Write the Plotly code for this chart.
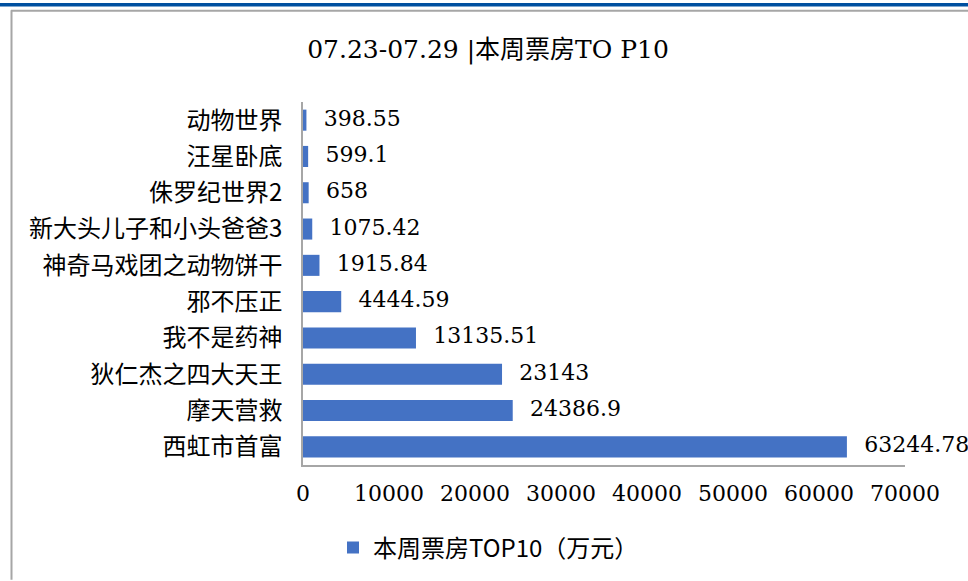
import plotly.graph_objects as go

# ---- data (top to bottom as shown) ----
categories = ["动物世界", "汪星卧底", "侏罗纪世界2", "新大头儿子和小头爸爸3", "神奇马戏团之动物饼干",
              "邪不压正", "我不是药神", "狄仁杰之四大天王", "摩天营救", "西虹市首富"]
values = [398.55, 599.1, 658, 1075.42, 1915.84, 4444.59, 13135.51, 23143, 24386.9, 63244.78]
value_labels = ["398.55", "599.1", "658", "1075.42", "1915.84", "4444.59", "13135.51", "23143", "24386.9", "63244.78"]
x_ticks = [0, 10000, 20000, 30000, 40000, 50000, 60000, 70000]
series_name = "本周票房TOP10（万元）"
title_text = "07.23-07.29 |本周票房TO P10"

W, H = 968, 581
L, R, T, B = 303, 905, 102, 466
SERIF = "DejaVu Serif, Noto Sans CJK SC, serif"
CJK = "Noto Sans CJK SC, DejaVu Serif"
BLUE = "#4472C4"
GREY = "#A6A6A6"


def px(xp):
    return (xp - L) / (R - L)


def py(yp):
    return (B - yp) / (B - T)


fig = go.Figure()
fig.add_trace(go.Bar(
    x=values, y=categories, orientation="h", name=series_name,
    marker=dict(color=BLUE, line=dict(width=0)),
    hoverinfo="x+y",
))
fig.add_trace(go.Scatter(
    x=values, y=categories, mode="markers+text", text=value_labels,
    textposition="middle right", cliponaxis=False,
    marker=dict(size=26, opacity=0), showlegend=False, hoverinfo="skip",
    textfont=dict(family=SERIF, size=22, color="#000000"),
))

shapes = [
    dict(type="line", xref="paper", yref="paper", x0=px(0), x1=px(W), y0=py(4.5), y1=py(4.5),
         line=dict(color="#0050A0", width=3.5)),
    dict(type="line", xref="paper", yref="paper", x0=px(11), x1=px(W), y0=py(10.5), y1=py(10.5),
         line=dict(color=GREY, width=2)),
    dict(type="line", xref="paper", yref="paper", x0=px(11.5), x1=px(11.5), y0=py(10), y1=py(H),
         line=dict(color=GREY, width=2)),
]

n = len(categories)
fig.update_layout(
    width=W, height=H,
    margin=dict(l=L, r=W - R, t=T, b=H - B, pad=0),
    paper_bgcolor="white", plot_bgcolor="white",
    bargap=0.42,
    title=dict(text=title_text, x=488 / W, xanchor="center", y=1 - 49 / H, yanchor="middle",
               yref="container", font=dict(family=SERIF, size=25, color="#000000")),
    xaxis=dict(range=[0, 70000], tickvals=x_ticks, ticktext=[str(v) for v in x_ticks],
               showgrid=False, zeroline=False, showline=True, linecolor=GREY, linewidth=1.5,
               ticks="", ticklabelstandoff=8,
               tickfont=dict(family=SERIF, size=22, color="#000000")),
    yaxis=dict(range=[n - 0.5, -0.5], showgrid=False, showline=True, linecolor=GREY, linewidth=1.5,
               ticks="", ticklabelstandoff=14,
               tickfont=dict(family=CJK, size=24, color="#000000")),
    showlegend=True,
    legend=dict(orientation="h", x=px(333), xanchor="left", y=py(548), yanchor="middle",
                itemwidth=30, font=dict(family=CJK, size=24, color="#000000"),
                bgcolor="rgba(0,0,0,0)"),
    shapes=shapes,
)

fig.write_html("out.html", config={"displayModeBar": False},
               post_script="document.body.style.margin='0';document.body.style.overflow='hidden';")
